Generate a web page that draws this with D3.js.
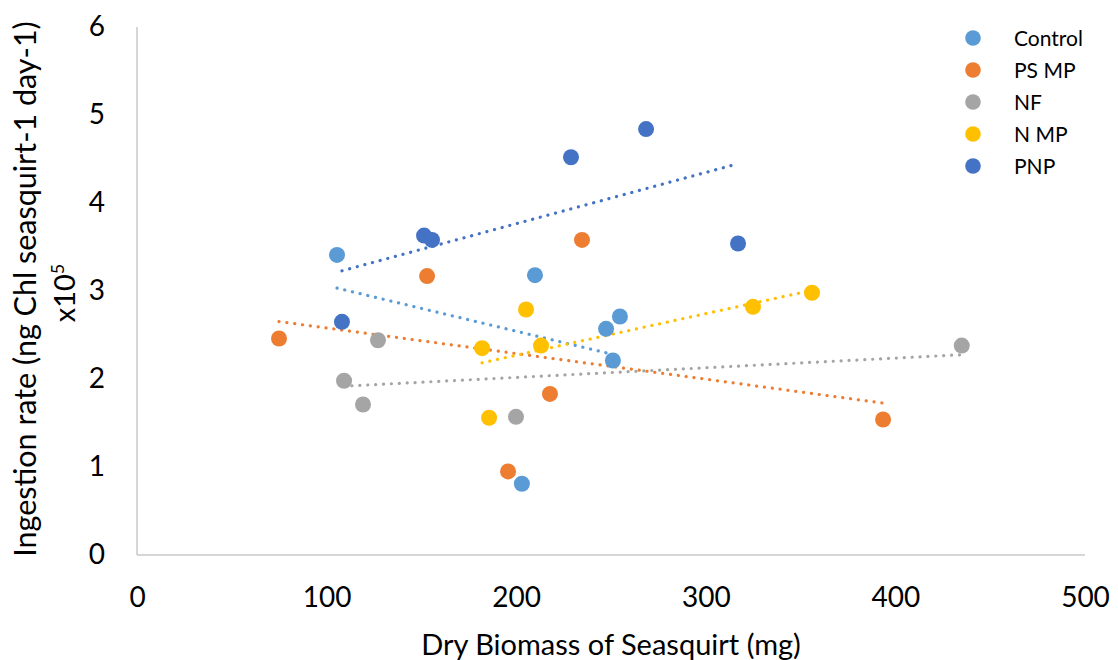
<!DOCTYPE html>
<html><head><meta charset="utf-8">
<script src="https://cdn.jsdelivr.net/npm/d3@7"></script>
<style>body{margin:0;background:#fff}svg{display:block}text{font-family:Lato,"Open Sans",sans-serif;fill:#000}</style>
</head><body><svg id="c" width="1118" height="660"></svg>
<script>
const seriesNames = ["Control","PS MP","NF","N MP","PNP"];
const seriesColors = ["#5B9BD5","#ED7D31","#A5A5A5","#FFC000","#4472C4"];
const controlX = [105.5,209.9,247.4,254.7,251,203];
const controlY = [3.41,3.18,2.57,2.71,2.21,0.81];
const psmpX = [74.9,153,234.7,217.8,195.7,393.5];
const psmpY = [2.46,3.17,3.58,1.83,0.95,1.54];
const nfX = [109.2,119.2,127.1,199.9,435];
const nfY = [1.98,1.71,2.44,1.57,2.38];
const nmpX = [182,185.7,205.2,213.1,324.9,356];
const nmpY = [2.35,1.56,2.79,2.38,2.82,2.98];
const pnpX = [108.1,151.4,155.6,228.9,268.5,317];
const pnpY = [2.65,3.63,3.58,4.52,4.84,3.54];
const xTicks = [0,100,200,300,400,500];
const yTicks = [0,1,2,3,4,5,6];

const seriesX = [controlX,psmpX,nfX,nmpX,pnpX];
const seriesY = [controlY,psmpY,nfY,nmpY,pnpY];

const svg = d3.select("#c");
const x = d3.scaleLinear().domain([0,500]).range([137,1085]);
const y = d3.scaleLinear().domain([0,6]).range([555,27]);

svg.append("line").attr("x1",x(0)).attr("x2",x(500)).attr("y1",y(0)).attr("y2",y(0)).attr("stroke","#C8C8C8").attr("stroke-width",1.5);
svg.append("line").attr("x1",x(0)).attr("x2",x(0)).attr("y1",y(0)).attr("y2",y(6)).attr("stroke","#C8C8C8").attr("stroke-width",1.5);

const xAxis = svg.append("g").attr("transform",`translate(0,${y(0)})`).call(d3.axisBottom(x).tickValues(xTicks).tickFormat(d3.format("d")).tickSize(0).tickPadding(32));
xAxis.select(".domain").remove();
xAxis.selectAll("text").style("font-size","28px").style("font-family","Lato").attr("fill","#000");
const yAxis = svg.append("g").attr("transform",`translate(${x(0)},0)`).call(d3.axisLeft(y).tickValues(yTicks).tickFormat(d3.format("d")).tickSize(0).tickPadding(32));
yAxis.select(".domain").remove();
yAxis.selectAll("text").style("font-size","28px").style("font-family","Lato").attr("fill","#000");

// trendlines (least squares)
seriesX.forEach((xs,i)=>{
  const ys = seriesY[i];
  const n = xs.length, mx = d3.mean(xs), my = d3.mean(ys);
  let sxy=0,sxx=0;
  for(let k=0;k<n;k++){sxy+=(xs[k]-mx)*(ys[k]-my);sxx+=(xs[k]-mx)**2;}
  const b = sxy/sxx, a = my-b*mx;
  const x0 = d3.min(xs), x1 = d3.max(xs);
  svg.append("line").attr("x1",x(x0)).attr("y1",y(a+b*x0)).attr("x2",x(x1)).attr("y2",y(a+b*x1))
    .attr("stroke",seriesColors[i]).attr("stroke-width",3.2).attr("stroke-linecap","round").attr("stroke-dasharray","0.1 7.8");
});

seriesX.forEach((xs,i)=>{
  svg.append("g").selectAll("circle").data(xs.map((v,k)=>[v,seriesY[i][k]])).join("circle")
    .attr("cx",d=>x(d[0])).attr("cy",d=>y(d[1])).attr("r",8).attr("fill",seriesColors[i]);
});

const lg = svg.append("g");
seriesNames.forEach((n,i)=>{
  lg.append("circle").attr("cx",973).attr("cy",38+i*32).attr("r",7.8).attr("fill",seriesColors[i]);
  lg.append("text").attr("x",1014).attr("y",38+i*32).attr("dy","0.36em").style("font-size","21px").text(n);
});

svg.append("text").attr("x",611).attr("y",655).attr("text-anchor","middle").style("font-size","29px").text("Dry Biomass of Seasquirt (mg)");
const yt = svg.append("text").attr("transform","translate(36,289) rotate(-90)").attr("text-anchor","middle").style("font-size","30.5px");
yt.append("tspan").attr("x",0).attr("y",0).text("Ingestion rate (ng Chl seasquirt-1 day-1)");
const yt2 = svg.append("text").attr("transform","translate(75,293) rotate(-90)").attr("text-anchor","middle").style("font-size","29px");
yt2.append("tspan").text("x10");
yt2.append("tspan").attr("dy",-11).style("font-size","18px").text("5");
</script></body></html>
